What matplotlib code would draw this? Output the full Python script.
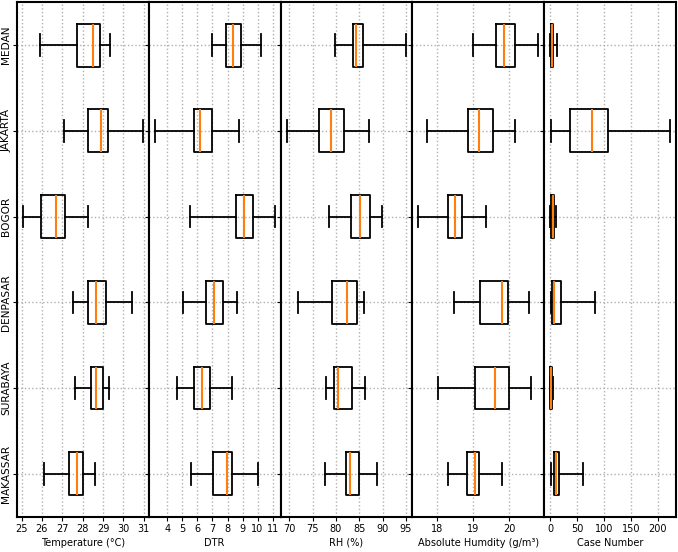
import matplotlib

matplotlib.use("Agg")
import matplotlib.pyplot as plt

cities = ["MEDAN", "JAKARTA", "BOGOR", "DENPASAR", "SURABAYA", "MAKASSAR"]

# per city: (whisker low, q1, median, q3, whisker high)
temperature = [
    (25.90, 27.74, 28.49, 28.83, 29.32),
    (27.07, 28.26, 28.88, 29.23, 30.95),
    (25.07, 25.98, 26.70, 27.15, 28.28),
    (27.54, 28.26, 28.67, 29.13, 30.40),
    (27.64, 28.43, 28.67, 29.00, 29.31),
    (26.11, 27.32, 27.72, 28.00, 28.61),
]
dtr = [
    (7.00, 7.91, 8.39, 8.90, 10.22),
    (3.16, 5.77, 6.19, 6.98, 8.79),
    (5.50, 8.55, 9.10, 9.72, 11.13),
    (5.07, 6.57, 7.12, 7.70, 8.62),
    (4.67, 5.77, 6.30, 6.81, 8.31),
    (5.59, 7.04, 7.95, 8.31, 10.00),
]
rh = [
    (79.7, 83.6, 84.3, 85.9, 95.1),
    (69.4, 76.4, 79.0, 81.8, 87.1),
    (78.6, 83.2, 85.1, 87.2, 89.8),
    (71.9, 79.1, 82.4, 84.6, 86.1),
    (77.9, 79.5, 80.5, 83.4, 86.3),
    (77.6, 82.1, 83.1, 85.0, 88.7),
]
abs_hum = [
    (19.00, 19.63, 19.86, 20.15, 20.79),
    (17.72, 18.86, 19.15, 19.55, 20.14),
    (17.49, 18.32, 18.51, 18.70, 19.36),
    (18.46, 19.18, 19.80, 19.97, 20.55),
    (18.04, 19.06, 19.61, 20.00, 20.59),
    (18.30, 18.83, 19.06, 19.17, 19.80),
]
cases = [
    (0.5, 1.0, 4.0, 6.0, 12.0),
    (1.9, 37.0, 78.4, 106.8, 222.8),
    (0.5, 1.5, 5.0, 7.5, 10.5),
    (1.9, 3.7, 8.0, 19.8, 82.7),
    (0.0, 0.5, 2.0, 4.0, 6.0),
    (1.2, 8.0, 10.5, 17.3, 61.7),
]

panels = [
    (temperature, "Temperature (°C)", [25, 26, 27, 28, 29, 30, 31]),
    (dtr, "DTR", [4, 5, 6, 7, 8, 9, 10, 11]),
    (rh, "RH (%)", [70, 75, 80, 85, 90, 95]),
    (abs_hum, "Absolute Humdity (g/m³)", [18, 19, 20]),
    (cases, "Case Number", [0, 50, 100, 150, 200]),
]

fig, axes = plt.subplots(1, 5, sharey=True, figsize=(6.78, 5.52), dpi=100)
fig.subplots_adjust(left=0.025, right=0.997, top=0.996, bottom=0.064, wspace=0)

box_kw = dict(color="black", linewidth=1.3)
for ax, (data, label, ticks) in zip(axes, panels):
    stats = []
    for name, (lo, q1, med, q3, hi) in zip(cities, data):
        stats.append({"label": name, "whislo": lo, "q1": q1, "med": med,
                      "q3": q3, "whishi": hi, "fliers": []})
    ax.bxp(stats, positions=range(1, len(cities) + 1), vert=False, widths=0.5,
           boxprops=box_kw, whiskerprops=box_kw, capprops=box_kw,
           medianprops=dict(color="#ff7f0e", linewidth=1.5), showfliers=False)
    ax.set_xticks(ticks)
    ax.set_xlabel(label, fontsize=7, labelpad=3)
    ax.tick_params(axis="x", labelsize=7, length=3, pad=2)
    ax.tick_params(axis="y", length=3, pad=1)
    ax.grid(True, linestyle=":", color="#b0b0b0", linewidth=1)
    for sp in ax.spines.values():
        sp.set_linewidth(1.5)

axes[0].set_ylim(6.5, 0.5)
axes[0].set_yticks(range(1, len(cities) + 1))
axes[0].set_yticklabels(cities, rotation=90, va="center", fontsize=7.6)

fig.savefig("out.png", dpi=100)
